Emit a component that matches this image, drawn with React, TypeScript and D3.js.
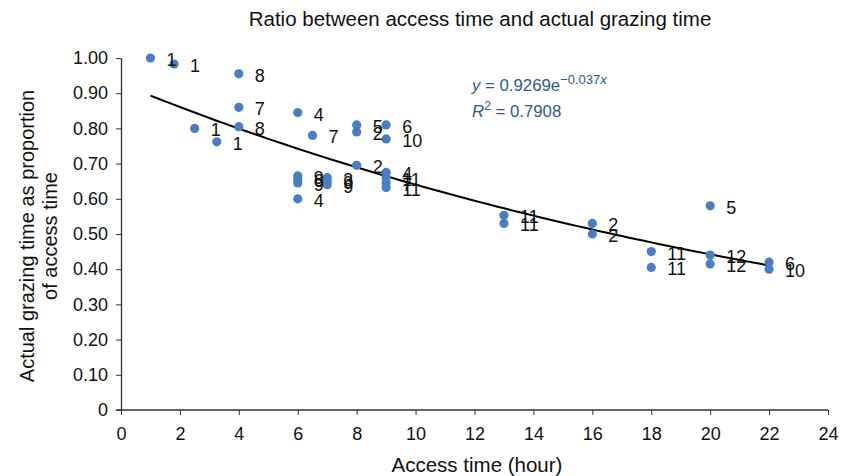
import React, { useEffect, useRef } from "react";
import * as d3 from "d3";

// access time (hour), grazing proportion, label
const accessTime = [1, 1.8, 2.5, 3.25, 4, 4, 4, 6, 6.5, 8, 8, 9, 9, 8, 6, 6, 6, 6, 7, 7, 7, 9, 9, 9, 9, 13, 13, 16, 16, 18, 18, 20, 20, 20, 22, 22];
const proportion = [1.0, 0.983, 0.80, 0.762, 0.955, 0.86, 0.805, 0.845, 0.78, 0.81, 0.79, 0.81, 0.77, 0.695, 0.665, 0.655, 0.645, 0.60, 0.66, 0.65, 0.64, 0.675, 0.66, 0.645, 0.632, 0.553, 0.53, 0.53, 0.50, 0.45, 0.405, 0.58, 0.44, 0.415, 0.42, 0.40];
const pointLabels = ["1", "1", "1", "1", "8", "7", "8", "4", "7", "5", "2", "6", "10", "2", "9", "6", "9", "4", "3", "9", "9", "4", "11", "7", "11", "11", "11", "2", "2", "11", "11", "5", "12", "12", "6", "10"];

const xTicks = d3.range(0, 25, 2);
const yTicks = d3.range(0, 1.01, 0.1);

const fitA = 0.9269;
const fitB = -0.037;
const fitRange = [1, 22];

const App = () => {
  const svgRef = useRef<SVGSVGElement>(null);

  useEffect(() => {
    const svg = d3.select(svgRef.current);
    svg.selectAll("*").remove();
    const font = "'Liberation Sans', Arial, sans-serif";

    const x = d3.scaleLinear().domain([0, 24]).range([121, 828]);
    const y = d3.scaleLinear().domain([0, 1]).range([410, 58]);

    svg.append("text")
      .attr("x", 480).attr("y", 26)
      .attr("text-anchor", "middle")
      .attr("font-family", font).attr("font-size", 20.5)
      .attr("fill", "#111")
      .text("Ratio between access time and actual grazing time");

    const yAxis = svg.append("g")
      .attr("transform", `translate(${x(0)},0)`)
      .call(d3.axisLeft(y).tickValues(yTicks).tickSize(5).tickSizeOuter(0)
        .tickFormat(d => (+d === 0 ? "0" : d3.format(".2f")(+d))));
    yAxis.select(".domain").attr("stroke", "#333").attr("stroke-width", 1.3);
    yAxis.selectAll(".tick line").attr("stroke", "#333");
    yAxis.selectAll("text")
      .attr("font-family", font).attr("font-size", 18).attr("fill", "#111")
      .attr("x", -13);

    const xAxis = svg.append("g")
      .attr("transform", `translate(0,${y(0)})`)
      .call(d3.axisBottom(x).tickValues(xTicks).tickSize(5).tickSizeOuter(0));
    xAxis.select(".domain").attr("stroke", "#333").attr("stroke-width", 1.3)
      .attr("d", `M${x(0) - 5},0H${x(24)}`);
    xAxis.selectAll(".tick line").attr("stroke", "#333");
    xAxis.selectAll("text")
      .attr("font-family", font).attr("font-size", 18).attr("fill", "#111")
      .attr("y", 17);

    svg.append("text")
      .attr("x", 477).attr("y", 472)
      .attr("text-anchor", "middle")
      .attr("font-family", font).attr("font-size", 20.5)
      .attr("fill", "#111")
      .text("Access time (hour)");

    const yl = svg.append("text")
      .attr("transform", "translate(34,236) rotate(-90)")
      .attr("text-anchor", "middle")
      .attr("font-family", font).attr("font-size", 20)
      .attr("fill", "#111");
    yl.append("tspan").attr("x", 0).attr("y", 0).text("Actual grazing time as proportion");
    yl.append("tspan").attr("x", 0).attr("y", 23).text("of access time");

    const fitPts = d3.range(fitRange[0], fitRange[1] + 0.01, 0.25)
      .map(t => [t, fitA * Math.exp(fitB * t)] as [number, number]);
    svg.append("path")
      .datum(fitPts)
      .attr("fill", "none")
      .attr("stroke", "#000")
      .attr("stroke-width", 2)
      .attr("d", d3.line<[number, number]>().x(d => x(d[0])).y(d => y(d[1])));

    const data = accessTime.map((t, i) => ({ t, v: proportion[i], label: pointLabels[i] }));

    svg.selectAll(".dot")
      .data(data)
      .enter()
      .append("circle")
      .attr("cx", d => x(d.t))
      .attr("cy", d => y(d.v))
      .attr("r", 4.6)
      .attr("fill", "#4a7ec2");

    svg.selectAll(".lbl")
      .data(data)
      .enter()
      .append("text")
      .attr("x", d => x(d.t) + 16)
      .attr("y", d => y(d.v) + 8)
      .attr("font-family", font).attr("font-size", 18)
      .attr("fill", "#111")
      .text(d => d.label);

    const eq = svg.append("text")
      .attr("x", 472).attr("y", 91)
      .attr("font-family", font).attr("font-size", 16.8)
      .attr("fill", "#2c5b8e");
    eq.append("tspan").attr("font-style", "italic").text("y");
    eq.append("tspan").text(" = 0.9269e");
    eq.append("tspan").attr("dy", -7).attr("font-size", 13).text("\u22120.037");
    eq.append("tspan").attr("font-size", 13).attr("font-style", "italic").text("x");

    const r2 = svg.append("text")
      .attr("x", 472).attr("y", 117)
      .attr("font-family", font).attr("font-size", 16.8)
      .attr("fill", "#2c5b8e");
    r2.append("tspan").attr("font-style", "italic").text("R");
    r2.append("tspan").attr("dy", -7).attr("font-size", 12).text("2");
    r2.append("tspan").attr("dy", 7).text(" = 0.7908");
  }, []);

  return (
    <svg ref={svgRef} width={844} height={476}
      style={{ position: "absolute", left: 0, top: 0, background: "#fff" }} />
  );
};

export default App;
